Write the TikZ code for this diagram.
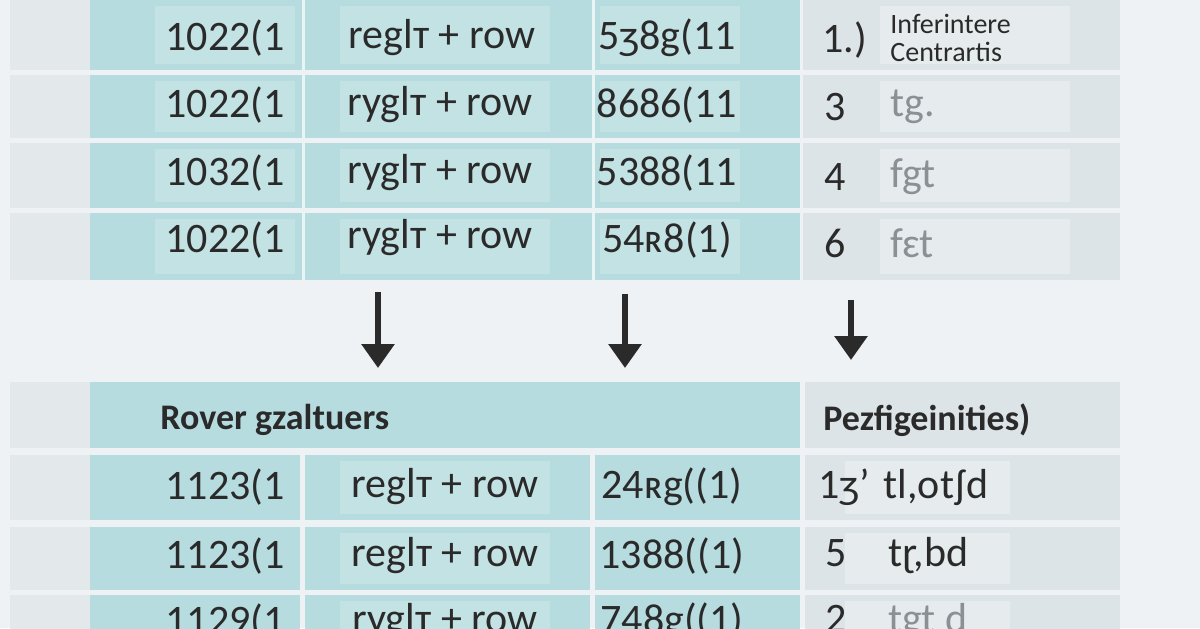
\documentclass[tikz,border=0pt]{standalone}
\usepackage{fontspec}
\setmainfont{Carlito}
\usetikzlibrary{arrows.meta}
\definecolor{bg}{HTML}{EEF2F4}
\definecolor{teal}{HTML}{B6DCDF}
\definecolor{tealin}{HTML}{C3E2E4}
\definecolor{gr}{HTML}{DDE4E7}
\definecolor{grin}{HTML}{E6ECEE}
\definecolor{strip}{HTML}{E3E8EA}
\definecolor{ink}{HTML}{2A2A2A}
\definecolor{faint}{HTML}{8A9094}
\begin{document}
\begin{tikzpicture}[x=0.5pt,y=-0.5pt,
  txt/.style={font=\fontsize{21}{24}\selectfont,text=ink,anchor=center,inner sep=0pt},
  hdr/.style={font=\bfseries\fontsize{18}{21}\selectfont,text=ink,anchor=west,inner sep=0pt},
  arr/.style={draw=ink,line width=3pt,-{Triangle[length=12pt,width=16pt]}}]
\fill[bg] (0,0) rectangle (1200,628);
\useasboundingbox (0,0) rectangle (1200,628);
% top rows
\foreach \a/\b in {0/70,75/138,143/208,213/280}{
  \fill[strip] (10,\a) rectangle (90,\b);
  \fill[teal] (90,\a) rectangle (800,\b);
  \fill[gr] (803,\a) rectangle (1120,\b);
  \fill[tealin] (155,\a+6) rectangle (295,\b-6);
  \fill[tealin] (340,\a+6) rectangle (550,\b-6);
  \fill[tealin] (600,\a+6) rectangle (740,\b-6);
  \fill[grin] (880,\a+6) rectangle (1070,\b-6);
}
\foreach \x in {303,593}{\draw[white!70!teal,line width=1.5pt] (\x,0) -- (\x,280);}
\node[txt] (a1) at (225,38) {1022(1};
\node[txt] (b1) at (442,38) {reglт + row};
\node[txt] (c1) at (667,38) {5ʒ8g(11};
\node[txt] (d1) at (845,40) {1.)};
\node[font=\fontsize{14}{14}\selectfont,text=ink,align=left,anchor=west,inner sep=0pt] (e1) at (890,38) {Inferintere\\Centrartis};
\node[txt] (a2) at (225,105) {1022(1};
\node[txt] (b2) at (440,105) {ryglт + row};
\node[txt] (c2) at (667,105) {8686(11};
\node[txt] (d2) at (835,107) {3};
\node[txt,text=faint,anchor=west] (e2) at (890,107) {tg.};
\node[txt] (a3) at (225,173) {1032(1};
\node[txt] (b3) at (440,173) {ryglт + row};
\node[txt] (c3) at (667,173) {5388(11};
\node[txt] (d3) at (835,177) {4};
\node[txt,text=faint,anchor=west] (e3) at (890,177) {fgt};
\node[txt] (a4) at (225,240) {1022(1};
\node[txt] (b4) at (440,238) {ryglт + row};
\node[txt] (c4) at (667,240) {54ʀ8(1)};
\node[txt] (d4) at (835,243) {6};
\node[txt,text=faint,anchor=west] (e4) at (890,243) {fɛt};
% arrows
\coordinate (p1) at (378,292); \coordinate (q1) at (378,368);
\coordinate (p2) at (625,294); \coordinate (q2) at (625,368);
\coordinate (p3) at (851,300); \coordinate (q3) at (851,360);
\draw[arr] (p1) -- (q1); \draw[arr] (p2) -- (q2); \draw[arr] (p3) -- (q3);
% bottom header
\fill[strip] (10,382) rectangle (90,448);
\fill[teal] (90,382) rectangle (800,448);
\fill[gr] (805,382) rectangle (1120,448);
\node[hdr] (h1) at (160,420) {Rover gzaltuers};
\node[hdr] (h2) at (823,420) {Pezfigeinities)};
\foreach \a/\b in {455/520,527/590,595/640}{
  \fill[strip] (10,\a) rectangle (90,\b);
  \fill[teal] (90,\a) rectangle (300,\b);
  \fill[teal] (305,\a) rectangle (590,\b);
  \fill[teal] (595,\a) rectangle (800,\b);
  \fill[gr] (805,\a) rectangle (1120,\b);
  \fill[tealin] (340,\a+6) rectangle (550,\b-6);
  \fill[grin] (845,\a+6) rectangle (1010,\b-6);
}
\node[txt] (f1) at (225,487) {1123(1};
\node[txt] (g1) at (445,487) {reglт + row};
\node[txt] (k1) at (672,487) {24ʀg((1)};
\node[txt,anchor=west] (m1) at (818,487) {1ʒ'\,\,tl,otʄd};
\node[txt] (f2) at (225,556) {1123(1};
\node[txt] (g2) at (445,556) {reglт + row};
\node[txt] (k2) at (672,556) {1388((1)};
\node[txt,anchor=west] (m2) at (825,556) {5\quad tɽ,bd};
\node[txt] (f3) at (225,622) {1129(1};
\node[txt] (g3) at (445,622) {ryglт + row};
\node[txt] (k3) at (672,622) {748g((1)};
\node[txt,anchor=west] (m3) at (825,622) {2\quad \textcolor{faint}{tgt d}};
\end{tikzpicture}
\end{document}
